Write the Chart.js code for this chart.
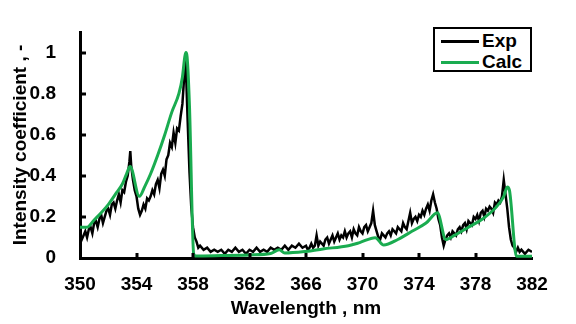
<!DOCTYPE html>
<html lang="en">
<head>
  <meta charset="UTF-8" />
  <title>Intensity coefficient vs wavelength</title>
  <script src="https://cdn.jsdelivr.net/npm/chart.js"></script>
  <style>
    body {
      margin: 0;
      background: #fff;
      font-family: Arial, 'Liberation Sans', sans-serif;
    }
    .wrap {
      position: relative;
      width: 576px;
      height: 324px;
    }
    .legend {
      position: absolute;
      left: 433px;
      top: 27px;
      width: 95px;
      height: 41px;
      border: 2px solid #000;
      background: #fff;
      font-weight: bold;
      font-size: 19px;
    }
    .legend .row {
      position: absolute;
      left: 6px;
      height: 20px;
      line-height: 20px;
    }
    .legend .swatch {
      display: inline-block;
      width: 38px;
      height: 3px;
      vertical-align: middle;
      margin-right: 3px;
    }
  </style>
</head>
<body>
  <div class="wrap">
    <canvas id="chart" width="576" height="324"></canvas>
    <div class="legend" id="legend"></div>
  </div>

  <script>
    const expWavelength = [
      350.0, 350.125, 350.25, 350.375, 350.5, 350.625, 350.75, 350.875,
      351.0, 351.125, 351.25, 351.375, 351.5, 351.625, 351.75, 351.875,
      352.0, 352.125, 352.25, 352.375, 352.5, 352.625, 352.75, 352.875,
      353.0, 353.125, 353.25, 353.375, 353.5, 353.56, 353.625, 353.75, 353.875,
      354.0, 354.125, 354.25, 354.375, 354.5, 354.625, 354.75, 354.875,
      355.0, 355.125, 355.25, 355.375, 355.5, 355.625, 355.75, 355.875,
      356.0, 356.125, 356.25, 356.375, 356.5, 356.625, 356.75, 356.875,
      357.0, 357.125, 357.25, 357.375, 357.45, 357.5, 357.625, 357.75, 357.875,
      358.0, 358.125, 358.25, 358.375, 358.5,
      358.75, 359.0, 359.25, 359.5, 359.75, 360.0, 360.25, 360.5, 360.75,
      361.0, 361.25, 361.5, 361.75, 362.0, 362.25, 362.5, 362.75, 363.0,
      363.25, 363.5, 363.75, 364.0, 364.25, 364.5, 364.75, 365.0, 365.25,
      365.5, 365.75,
      366.0, 366.125, 366.25, 366.375, 366.5, 366.625, 366.75, 366.875,
      367.0, 367.125, 367.25, 367.375, 367.5, 367.625, 367.75, 367.875,
      368.0, 368.125, 368.25, 368.375, 368.5, 368.625, 368.75, 368.875,
      369.0, 369.125, 369.25, 369.375, 369.5, 369.625, 369.75, 369.875,
      370.0, 370.125, 370.25, 370.375, 370.5, 370.625, 370.75, 370.875,
      371.0, 371.125, 371.25, 371.375, 371.5, 371.625, 371.75, 371.875,
      372.0, 372.125, 372.25, 372.375, 372.5, 372.625, 372.75, 372.875,
      373.0, 373.125, 373.25, 373.375, 373.5, 373.625, 373.75, 373.875,
      374.0, 374.125, 374.25, 374.375, 374.5, 374.625, 374.75, 374.875,
      375.0, 375.125, 375.25, 375.375, 375.5, 375.625, 375.75, 375.875,
      376.0, 376.125, 376.25, 376.375, 376.5, 376.625, 376.75, 376.875,
      377.0, 377.125, 377.25, 377.375, 377.5, 377.625, 377.75, 377.875,
      378.0, 378.125, 378.25, 378.375, 378.5, 378.625, 378.75, 378.875,
      379.0, 379.125, 379.25, 379.375, 379.5, 379.625, 379.75, 379.875,
      380.0, 380.125, 380.25, 380.375, 380.5, 380.625, 380.75, 380.875,
      381.0, 381.125, 381.25, 381.5, 381.75, 382.0
    ];
    const expIntensity = [
      0.12, 0.09, 0.11, 0.13, 0.10, 0.14, 0.15, 0.12,
      0.17, 0.18, 0.15, 0.19, 0.21, 0.17, 0.20, 0.23,
      0.24, 0.21, 0.26, 0.27, 0.24, 0.28, 0.31, 0.27,
      0.33, 0.32, 0.37, 0.40, 0.47, 0.52, 0.45, 0.38, 0.33,
      0.30, 0.24, 0.21, 0.23, 0.26, 0.24, 0.29, 0.28,
      0.30, 0.33, 0.31, 0.36, 0.38, 0.34, 0.41, 0.43,
      0.40, 0.48, 0.50, 0.56, 0.54, 0.61, 0.56, 0.63,
      0.62, 0.69, 0.75, 0.88, 0.97, 0.92, 0.66, 0.42, 0.25,
      0.15, 0.10, 0.08, 0.05, 0.06,
      0.04, 0.05, 0.03, 0.04, 0.03, 0.04, 0.02, 0.04, 0.03,
      0.05, 0.03, 0.04, 0.02, 0.04, 0.03, 0.05, 0.03, 0.04,
      0.03, 0.05, 0.04, 0.05, 0.04, 0.06, 0.04, 0.06, 0.05,
      0.07, 0.05,
      0.06, 0.04, 0.05, 0.07, 0.05, 0.06, 0.11, 0.06,
      0.08, 0.07, 0.06, 0.09, 0.10, 0.07, 0.09, 0.11,
      0.08, 0.10, 0.12, 0.09, 0.11, 0.10, 0.13, 0.10,
      0.12, 0.13, 0.10, 0.14, 0.12, 0.11, 0.15, 0.13,
      0.12, 0.15, 0.16, 0.13, 0.15, 0.17, 0.23, 0.16,
      0.13, 0.10, 0.09, 0.12, 0.11, 0.10, 0.12, 0.13,
      0.11, 0.14, 0.13, 0.12, 0.15, 0.14, 0.13, 0.17,
      0.15, 0.14, 0.18, 0.22, 0.17, 0.19, 0.20, 0.18,
      0.21, 0.20, 0.23, 0.21, 0.24, 0.26, 0.23, 0.28,
      0.31, 0.27, 0.24, 0.19, 0.16, 0.10, 0.06, 0.09,
      0.11, 0.12, 0.10, 0.13, 0.12, 0.11, 0.14, 0.15,
      0.13, 0.16, 0.17, 0.14, 0.18, 0.17, 0.16, 0.20,
      0.19, 0.21, 0.18, 0.22, 0.23, 0.20, 0.24, 0.23,
      0.25, 0.24, 0.22, 0.27, 0.26, 0.28, 0.27, 0.30,
      0.38, 0.31, 0.24, 0.15, 0.09, 0.06, 0.05, 0.03,
      0.05, 0.03, 0.04, 0.02, 0.04, 0.03
    ];

    // calculated spectrum (green)
    const calcWavelength = [
      350.0, 350.5, 351.0, 351.5, 352.0, 352.5, 353.0, 353.3, 353.55, 354.2,
      354.6, 355.0, 355.5, 356.0, 356.5, 357.0, 357.25, 357.42, 357.5, 357.58,
      357.75, 358.05, 358.2, 360.0, 362.0, 363.5, 364.1, 364.5, 366.0, 367.2,
      369.0, 369.8, 370.9, 371.5, 372.5, 373.5, 374.5, 375.3, 375.9, 376.5,
      377.5, 378.5, 379.5, 380.0, 380.25, 380.4, 380.9, 382.0
    ];
    const calcIntensity = [
      0.15, 0.15, 0.185, 0.22, 0.26, 0.31, 0.36, 0.41, 0.445, 0.30,
      0.35, 0.41, 0.50, 0.60, 0.71, 0.80, 0.88, 0.98, 1.0, 0.98,
      0.74, 0.02, 0.01, 0.012, 0.015, 0.022, 0.04, 0.024, 0.032, 0.044,
      0.06, 0.075, 0.099, 0.063, 0.09, 0.13, 0.17, 0.22, 0.09, 0.11,
      0.15, 0.19, 0.25, 0.30, 0.345, 0.33, 0.008, 0.008
    ];

    const xTicks = [350, 354, 358, 362, 366, 370, 374, 378, 382];
    const yTicks = [0, 0.2, 0.4, 0.6, 0.8, 1];

    const seriesNames = ['Exp', 'Calc'];
    const seriesColors = ['#000000', '#1aac50'];

    const FONT = "Arial, 'Liberation Sans', sans-serif";

    function toPoints(xs, ys) {
      return xs.map((x, i) => ({ x: x, y: ys[i] }));
    }

    // small tick marks pointing into the plot, like the original
    const innerTicks = {
      id: 'innerTicks',
      afterDraw(chart) {
        const ctx = chart.ctx;
        const xs = chart.scales.x, ys = chart.scales.y;
        const area = chart.chartArea;
        ctx.save();
        ctx.strokeStyle = '#000';
        ctx.lineWidth = 3;
        xTicks.slice(1, -1).forEach(v => {
          const px = Math.round(xs.getPixelForValue(v));
          ctx.beginPath();
          ctx.moveTo(px, area.bottom);
          ctx.lineTo(px, area.bottom - 5);
          ctx.stroke();
        });
        yTicks.slice(1).forEach(v => {
          const py = Math.round(ys.getPixelForValue(v));
          ctx.beginPath();
          ctx.moveTo(area.left, py);
          ctx.lineTo(area.left + 6, py);
          ctx.stroke();
        });
        ctx.restore();
      }
    };

    new Chart(document.getElementById('chart'), {
      type: 'line',
      data: {
        datasets: [
          {
            label: seriesNames[0],
            data: toPoints(expWavelength, expIntensity),
            borderColor: seriesColors[0],
            borderWidth: 2.5,
            pointRadius: 0,
            tension: 0,
            order: 1
          },
          {
            label: seriesNames[1],
            data: toPoints(calcWavelength, calcIntensity),
            borderColor: seriesColors[1],
            borderWidth: 3,
            pointRadius: 0,
            cubicInterpolationMode: 'monotone',
            order: 0
          }
        ]
      },
      options: {
        responsive: false,
        animation: false,
        layout: { padding: { left: 5, right: 44, top: 32, bottom: 4 } },
        plugins: {
          legend: { display: false },
          tooltip: { enabled: false }
        },
        scales: {
          x: {
            type: 'linear',
            min: 350,
            max: 382,
            afterBuildTicks(scale) {
              scale.ticks = xTicks.map(v => ({ value: v }));
            },
            afterFit(scale) {
              scale.height = 62;
            },
            grid: { display: false },
            border: { display: true, color: '#000', width: 3 },
            ticks: {
              color: '#000',
              padding: 7,
              maxRotation: 0,
              font: { family: FONT, size: 19, weight: 'bold' }
            },
            title: {
              display: true,
              text: 'Wavelength , nm',
              color: '#000',
              padding: { top: 2, bottom: 0 },
              font: { family: FONT, size: 19, weight: 'bold' }
            }
          },
          y: {
            min: 0,
            max: 1.1,
            afterBuildTicks(scale) {
              scale.ticks = yTicks.map(v => ({ value: v }));
            },
            afterFit(scale) {
              scale.width = 75;
            },
            grid: { display: false },
            border: { display: true, color: '#000', width: 3 },
            ticks: {
              color: '#000',
              padding: 16,
              callback: v => String(Math.round(v * 10) / 10),
              font: { family: FONT, size: 19, weight: 'bold' }
            },
            title: {
              display: true,
              text: 'Intensity coefficient , -',
              color: '#000',
              padding: 4,
              font: { family: FONT, size: 19, weight: 'bold' }
            }
          }
        }
      },
      plugins: [innerTicks]
    });

    // legend box in the upper right corner
    const legend = document.getElementById('legend');
    seriesNames.forEach((name, i) => {
      const row = document.createElement('div');
      row.className = 'row';
      row.style.top = (2 + i * 21) + 'px';
      const sw = document.createElement('span');
      sw.className = 'swatch';
      sw.style.background = seriesColors[i];
      row.appendChild(sw);
      row.appendChild(document.createTextNode(name));
      legend.appendChild(row);
    });
  </script>
</body>
</html>
